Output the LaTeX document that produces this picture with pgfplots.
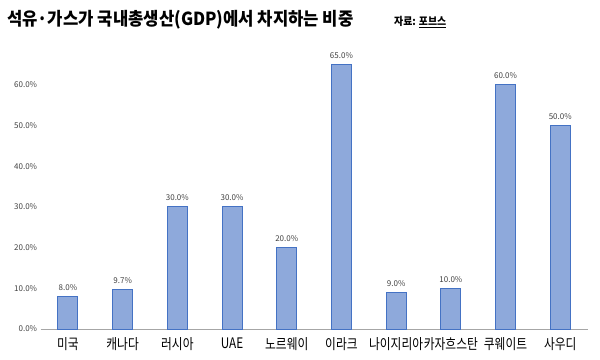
\documentclass[border=0pt]{standalone}
\usepackage{pgfplots}
\pgfplotsset{compat=1.18}
\usepackage{fontspec}
\setmainfont{Noto Sans CJK KR}
\definecolor{barfill}{HTML}{8EA9DB}
\definecolor{baredge}{HTML}{4472C4}
\definecolor{lbl}{HTML}{404040}
\begin{document}
\begin{tikzpicture}
\useasboundingbox (0pt,0pt) rectangle (600pt,359pt);
\node[anchor=west, inner sep=0pt, font=\bfseries\fontsize{18}{18}\selectfont] at (7pt,339pt) {\scalebox{0.925}[1]{석유·가스가 국내총생산(GDP)에서 차지하는 비중}};
\node[anchor=west, inner sep=0pt, font=\bfseries\fontsize{11}{11}\selectfont] at (394pt,337pt) {\scalebox{0.9}[1]{자료: \underline{포브스}}};
\begin{axis}[
  at={(40.6pt,30pt)}, anchor=south west,
  scale only axis, width=547pt, height=285pt,
  xmin=-0.5, xmax=9.5, ymin=0, ymax=70,
  axis x line*=bottom, axis y line*=left,
  x axis line style={draw=gray!70, line width=0.8pt},
  y axis line style={draw=none},
  xtick=data,
  xticklabels={미국,캐나다,러시아,UAE,노르웨이,이라크,나이지리아,카자흐스탄,쿠웨이트,사우디},
  xticklabel style={font=\fontsize{14.5}{14.5}\selectfont, text=black, xscale=0.81, yshift=-1pt},
  ytick={0,10,20,30,40,50,60},
  yticklabel={\pgfmathprintnumber[fixed,fixed zerofill,precision=1]{\tick}\%},
  yticklabel style={font=\fontsize{8}{8}\selectfont, text=lbl},
  /pgf/number format/assume math mode=true,
  tick style={draw=none},
  ybar, bar width=20pt,
  nodes near coords={\pgfmathprintnumber[fixed,fixed zerofill,precision=1,assume math mode=true]{\pgfplotspointmeta}\%},
  nodes near coords style={font=\fontsize{8}{8}\selectfont, text=lbl, yshift=2pt},
  clip=false,
]
\addplot[fill=barfill, draw=baredge, line width=1pt] coordinates {
(0,8.0) (1,9.7) (2,30.0) (3,30.0) (4,20.0) (5,65.0) (6,9.0) (7,10.0) (8,60.0) (9,50.0)};
\end{axis}
\end{tikzpicture}
\end{document}
